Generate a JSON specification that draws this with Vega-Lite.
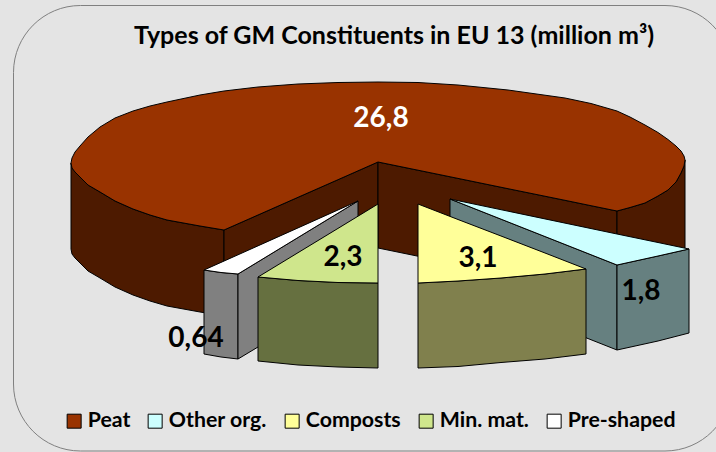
{"$schema":"https://vega.github.io/schema/vega-lite/v6.json","width":716,"height":452,"autosize":{"type":"none"},"padding":0,"background":"#e4e4e4","config":{"view":{"stroke":null}},
"title":{"text":"Types of GM Constituents in EU 13 (million m³)","font":"Lato","fontSize":25,"fontWeight":"bold","color":"#000","anchor":"start","frame":"group","offset":0,"dx":134,"dy":49},
"layer":[
{"data":{"values":[{"x":13.5,"x2":732,"y":5.5,"y2":451}]},"mark":{"type":"rect","cornerRadius":67,"fill":"#e4e4e4","stroke":"#808080","strokeWidth":1,"clip":true},
"encoding":{"x":{"field":"x","type":"quantitative","scale":{"domain":[0,716],"nice":false,"zero":false},"axis":null},"x2":{"field":"x2"},"y":{"field":"y","type":"quantitative","scale":{"domain":[452,0],"nice":false,"zero":false},"axis":null},"y2":{"field":"y2"}}},
{"data":{"values":[
{"face":"PeatOuterL","part":"Peat wall","x":71,"y":163,"y2":249},{"face":"PeatOuterL","part":"Peat wall","x":72,"y":168,"y2":254},{"face":"PeatOuterL","part":"Peat wall","x":75,"y":172,"y2":258},{"face":"PeatOuterL","part":"Peat wall","x":80,"y":177,"y2":263},{"face":"PeatOuterL","part":"Peat wall","x":88,"y":185,"y2":271},{"face":"PeatOuterL","part":"Peat wall","x":100,"y":192,"y2":278},{"face":"PeatOuterL","part":"Peat wall","x":115,"y":201,"y2":287},{"face":"PeatOuterL","part":"Peat wall","x":133,"y":209,"y2":295},{"face":"PeatOuterL","part":"Peat wall","x":150,"y":215,"y2":301},{"face":"PeatOuterL","part":"Peat wall","x":167,"y":220,"y2":306},{"face":"PeatOuterL","part":"Peat wall","x":200,"y":226,"y2":312},{"face":"PeatOuterL","part":"Peat wall","x":224,"y":230,"y2":316},
{"face":"PeatInnerL","part":"Peat wall","x":224,"y":230,"y2":316},{"face":"PeatInnerL","part":"Peat wall","x":378,"y":162,"y2":248},
{"face":"PeatInnerR","part":"Peat wall","x":378,"y":162,"y2":248},{"face":"PeatInnerR","part":"Peat wall","x":617,"y":211,"y2":297},
{"face":"PeatOuterR","part":"Peat wall","x":617,"y":211,"y2":297},{"face":"PeatOuterR","part":"Peat wall","x":630,"y":207.5,"y2":293},{"face":"PeatOuterR","part":"Peat wall","x":645,"y":203,"y2":289},{"face":"PeatOuterR","part":"Peat wall","x":658,"y":196,"y2":282},{"face":"PeatOuterR","part":"Peat wall","x":668,"y":190,"y2":276},{"face":"PeatOuterR","part":"Peat wall","x":676,"y":182,"y2":268},{"face":"PeatOuterR","part":"Peat wall","x":681,"y":173,"y2":259},{"face":"PeatOuterR","part":"Peat wall","x":684,"y":166,"y2":252},{"face":"PeatOuterR","part":"Peat wall","x":685,"y":160,"y2":248},
{"face":"PeatTop","part":"Peat","x":71,"y":163,"y2":163},{"face":"PeatTop","part":"Peat","x":72,"y":158,"y2":168},{"face":"PeatTop","part":"Peat","x":75,"y":152,"y2":172},{"face":"PeatTop","part":"Peat","x":80,"y":146,"y2":177},{"face":"PeatTop","part":"Peat","x":88,"y":137,"y2":185},{"face":"PeatTop","part":"Peat","x":100,"y":127,"y2":192},{"face":"PeatTop","part":"Peat","x":115,"y":118,"y2":201},{"face":"PeatTop","part":"Peat","x":133,"y":111,"y2":209},{"face":"PeatTop","part":"Peat","x":150,"y":106,"y2":215},{"face":"PeatTop","part":"Peat","x":167,"y":102,"y2":220},{"face":"PeatTop","part":"Peat","x":200,"y":95,"y2":226},{"face":"PeatTop","part":"Peat","x":224,"y":91,"y2":230},{"face":"PeatTop","part":"Peat","x":258,"y":87,"y2":215},{"face":"PeatTop","part":"Peat","x":298,"y":84,"y2":197.3},{"face":"PeatTop","part":"Peat","x":338,"y":82.5,"y2":179.7},{"face":"PeatTop","part":"Peat","x":378,"y":82,"y2":162},{"face":"PeatTop","part":"Peat","x":418,"y":82.5,"y2":170.2},{"face":"PeatTop","part":"Peat","x":458,"y":85,"y2":178.4},{"face":"PeatTop","part":"Peat","x":508,"y":90,"y2":188.7},{"face":"PeatTop","part":"Peat","x":565,"y":98,"y2":200.3},{"face":"PeatTop","part":"Peat","x":591,"y":103.5,"y2":205.7},{"face":"PeatTop","part":"Peat","x":617,"y":111,"y2":211},{"face":"PeatTop","part":"Peat","x":630,"y":117,"y2":207.5},{"face":"PeatTop","part":"Peat","x":645,"y":125,"y2":203},{"face":"PeatTop","part":"Peat","x":658,"y":132.5,"y2":196},{"face":"PeatTop","part":"Peat","x":668,"y":139.5,"y2":190},{"face":"PeatTop","part":"Peat","x":676,"y":146,"y2":182},{"face":"PeatTop","part":"Peat","x":681,"y":151,"y2":173},{"face":"PeatTop","part":"Peat","x":684,"y":156,"y2":166},{"face":"PeatTop","part":"Peat","x":685,"y":160,"y2":160},
{"face":"OtherInner","part":"Other org. wall","x":450,"y":199,"y2":284},{"face":"OtherInner","part":"Other org. wall","x":617,"y":265,"y2":350},
{"face":"OtherOuter","part":"Other org. wall","x":617,"y":265,"y2":350},{"face":"OtherOuter","part":"Other org. wall","x":658,"y":256,"y2":341},{"face":"OtherOuter","part":"Other org. wall","x":689,"y":249,"y2":333},
{"face":"OtherTop","part":"Other org.","x":450,"y":199,"y2":199},{"face":"OtherTop","part":"Other org.","x":617,"y":234,"y2":265},{"face":"OtherTop","part":"Other org.","x":658,"y":242.5,"y2":256},{"face":"OtherTop","part":"Other org.","x":689,"y":249,"y2":249},
{"face":"PreOuter","part":"Pre-shaped wall","x":204,"y":270,"y2":354},{"face":"PreOuter","part":"Pre-shaped wall","x":221,"y":272.5,"y2":357},{"face":"PreOuter","part":"Pre-shaped wall","x":238,"y":274,"y2":359},
{"face":"PreInner","part":"Pre-shaped wall","x":238,"y":274,"y2":359},{"face":"PreInner","part":"Pre-shaped wall","x":358,"y":201,"y2":287},
{"face":"PreTop","part":"Pre-shaped","x":204,"y":270,"y2":270},{"face":"PreTop","part":"Pre-shaped","x":221,"y":262.4,"y2":272.5},{"face":"PreTop","part":"Pre-shaped","x":238,"y":254.8,"y2":274},{"face":"PreTop","part":"Pre-shaped","x":358,"y":201,"y2":201},
{"face":"MinWall","part":"Min. mat. wall","x":258,"y":277,"y2":361},{"face":"MinWall","part":"Min. mat. wall","x":298,"y":280.5,"y2":365},{"face":"MinWall","part":"Min. mat. wall","x":338,"y":282.5,"y2":367},{"face":"MinWall","part":"Min. mat. wall","x":378,"y":283,"y2":368},
{"face":"MinTop","part":"Min. mat.","x":258,"y":277,"y2":277},{"face":"MinTop","part":"Min. mat.","x":298,"y":252.7,"y2":280.5},{"face":"MinTop","part":"Min. mat.","x":338,"y":228.4,"y2":282.5},{"face":"MinTop","part":"Min. mat.","x":378,"y":204,"y2":283},
{"face":"CompWall","part":"Composts wall","x":418,"y":283,"y2":368},{"face":"CompWall","part":"Composts wall","x":458,"y":281,"y2":366.5},{"face":"CompWall","part":"Composts wall","x":501,"y":278,"y2":362.5},{"face":"CompWall","part":"Composts wall","x":545,"y":274,"y2":359},{"face":"CompWall","part":"Composts wall","x":586,"y":269,"y2":354},
{"face":"CompTop","part":"Composts","x":418,"y":204,"y2":283},{"face":"CompTop","part":"Composts","x":458,"y":219.5,"y2":281},{"face":"CompTop","part":"Composts","x":501,"y":236,"y2":278},{"face":"CompTop","part":"Composts","x":545,"y":253,"y2":274},{"face":"CompTop","part":"Composts","x":586,"y":269,"y2":269}
]},
"mark":{"type":"area","stroke":"#000","strokeWidth":1,"strokeJoin":"round"},
"encoding":{"x":{"field":"x","type":"quantitative"},"y":{"field":"y","type":"quantitative","stack":null},"y2":{"field":"y2"},"detail":{"field":"face"},
"color":{"field":"part","type":"nominal","scale":{"domain":["Peat","Other org.","Composts","Min. mat.","Pre-shaped","Peat wall","Other org. wall","Composts wall","Min. mat. wall","Pre-shaped wall"],"range":["#993300","#ccffff","#ffff99","#cfe68c","#ffffff","#4d1a00","#668080","#80804d","#667040","#808080"]},
"legend":{"values":["Peat","Other org.","Composts","Min. mat.","Pre-shaped"],"title":null,"orient":"none","legendX":63.5,"legendY":410.5,"direction":"horizontal","symbolType":"square","symbolSize":196,"symbolStrokeColor":"#000","symbolStrokeWidth":1,"symbolOpacity":1,"labelFont":"Lato","labelFontSize":21.3,"labelFontWeight":"bold","labelColor":"#000","labelOffset":3,"columnPadding":14,"labelLimit":200}}}},
{"data":{"values":[{"label":"26,8","x":381,"y":119},{"label":"2,3","x":343,"y":258},{"label":"3,1","x":478,"y":259},{"label":"1,8","x":641,"y":292},{"label":"0,64","x":196,"y":339}]},
"mark":{"type":"text","font":"Lato","fontWeight":"bold","fontSize":28,"align":"center","baseline":"middle"},
"encoding":{"x":{"field":"x","type":"quantitative"},"y":{"field":"y","type":"quantitative"},"text":{"field":"label"},"color":{"condition":{"test":"datum.label==='26,8'","value":"#fff"},"value":"#000"}}}
]}
